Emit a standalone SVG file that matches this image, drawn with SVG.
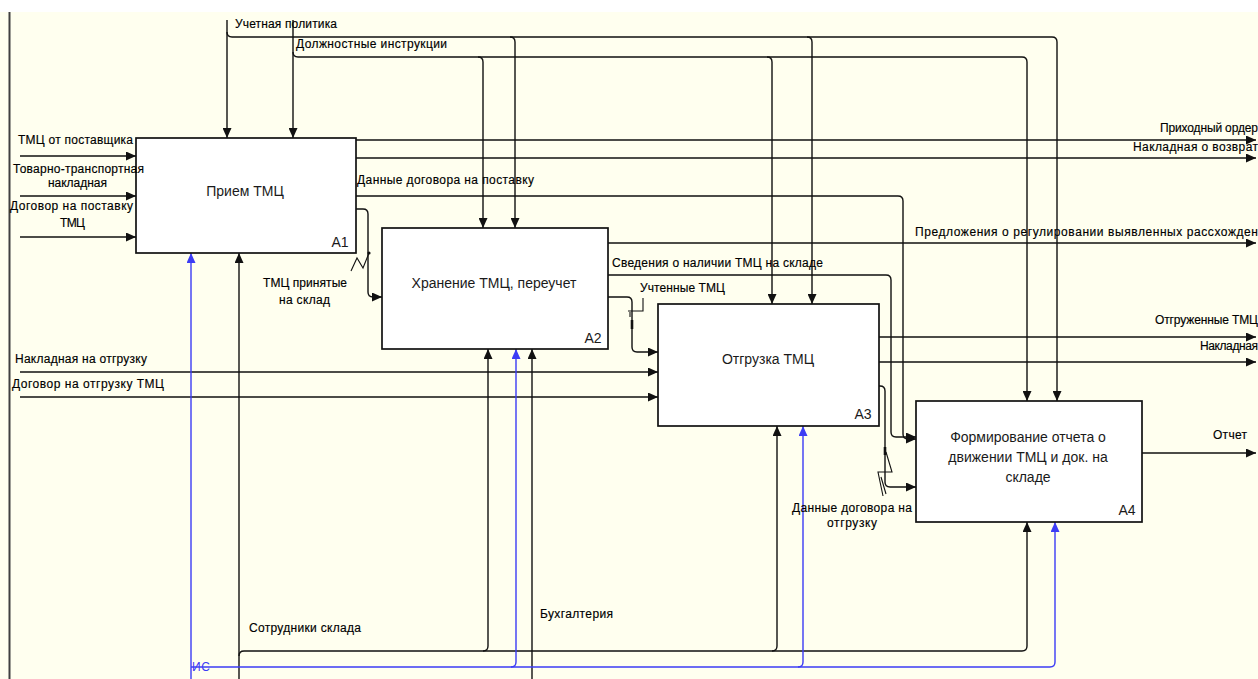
<svg xmlns="http://www.w3.org/2000/svg" width="1258" height="679" viewBox="0 0 1258 679">
<defs>
<style>
.bg{fill:#FFFFEF}
.box{fill:#fff;stroke:#111;stroke-width:1.7}
.ln{fill:none;stroke:#111;stroke-width:1.4}
.bl{fill:none;stroke:#3c3cf5;stroke-width:1.4}
.sq{fill:none;stroke:#111;stroke-width:1.1}
.t{font-family:"Liberation Sans",Arial,sans-serif;font-size:12px;fill:#000;stroke:#000;stroke-width:0.15}
.bt{font-family:"Liberation Sans",Arial,sans-serif;font-size:14px;fill:#1a1a1a;text-anchor:middle}
.tb{font-family:"Liberation Sans",Arial,sans-serif;font-size:12px;fill:#3c3cf5}
</style>
<marker id="ab" markerUnits="userSpaceOnUse" markerWidth="11" markerHeight="9" refX="10" refY="4.5" orient="auto"><path d="M0,0 L10,4.5 L0,9 z" fill="#111"/></marker>
<marker id="abb" markerUnits="userSpaceOnUse" markerWidth="11" markerHeight="9" refX="10" refY="4.5" orient="auto"><path d="M0,0 L10,4.5 L0,9 z" fill="#3c3cf5"/></marker>
</defs>
<rect x="0" y="0" width="1258" height="679" fill="#fff"/>
<rect class="bg" x="0" y="12" width="1258" height="667"/>
<line x1="9.5" y1="12" x2="9.5" y2="679" stroke="#404040" stroke-width="2"/>

<g id="connectors">
<!-- controls -->
<path class="ln" d="M227,20 V138" marker-end="url(#ab)"/>
<path class="ln" d="M227,32 Q227,37 232,37 H1052 Q1057,37 1057,42 V401" marker-end="url(#ab)"/>
<path class="ln" d="M510,37 Q515,37 515,42 V228" marker-end="url(#ab)"/>
<path class="ln" d="M807,37 Q812,37 812,42 V304" marker-end="url(#ab)"/>
<path class="ln" d="M293,20 V138" marker-end="url(#ab)"/>
<path class="ln" d="M293,52 Q293,57 298,57 H1022 Q1027,57 1027,62 V401" marker-end="url(#ab)"/>
<path class="ln" d="M478,57 Q483,57 483,62 V228" marker-end="url(#ab)"/>
<path class="ln" d="M767,57 Q772,57 772,62 V304" marker-end="url(#ab)"/>
<!-- inputs -->
<path class="ln" d="M20,156 H136" marker-end="url(#ab)"/>
<path class="ln" d="M20,196 H136" marker-end="url(#ab)"/>
<path class="ln" d="M20,237 H136" marker-end="url(#ab)"/>
<path class="ln" d="M20,372 H658" marker-end="url(#ab)"/>
<path class="ln" d="M20,397 H658" marker-end="url(#ab)"/>
<!-- A1 outputs -->
<path class="ln" d="M356,140 H1256" marker-end="url(#ab)"/>
<path class="ln" d="M356,158 H1256" marker-end="url(#ab)"/>
<path class="ln" d="M356,196 H898 Q903,196 903,201 V434 Q903,439 908,439 H916" marker-end="url(#ab)"/>
<path class="ln" d="M356,209 H363 Q368,209 368,214 V292 Q368,297 373,297 H382" marker-end="url(#ab)"/>
<circle cx="369" cy="253" r="1.6" fill="#111"/>
<path class="sq" d="M369,253 L363,268 L357,258 L351,271"/>
<!-- A2 outputs -->
<path class="ln" d="M608,243 H1256" marker-end="url(#ab)"/>
<path class="ln" d="M608,275 H886 Q891,275 891,280 V432 Q891,437 896,437 H916" marker-end="url(#ab)"/>
<path class="ln" d="M608,297 H627 Q632,297 632,302 V347 Q632,352 637,352 H658" marker-end="url(#ab)"/>
<path d="M632,320 V329" stroke="#111" stroke-width="2.6"/>
<path class="sq" d="M628,311 H643 V298 M630,312 V317"/>
<!-- A3 outputs -->
<path class="ln" d="M879,337 H1256" marker-end="url(#ab)"/>
<path class="ln" d="M879,362 H1256" marker-end="url(#ab)"/>
<path class="ln" d="M879,386 H880 Q885,386 885,391 V482 Q885,487 890,487 H916" marker-end="url(#ab)"/>
<path d="M885,447 V455" stroke="#111" stroke-width="2.6"/>
<path class="sq" d="M886,452 L892,472 H878 L883,496 M881,477 L886,494"/>
<!-- A4 output -->
<path class="ln" d="M1142,453 H1256" marker-end="url(#ab)"/>
<!-- mechanisms -->
<path class="ln" d="M239,679 V253" marker-end="url(#ab)"/>
<path class="ln" d="M239,656 Q239,651 244,651 H1022 Q1027,651 1027,646 V522" marker-end="url(#ab)"/>
<path class="ln" d="M483,651 Q488,651 488,646 V349" marker-end="url(#ab)"/>
<path class="ln" d="M772,651 Q777,651 777,646 V426" marker-end="url(#ab)"/>
<path class="ln" d="M532,679 V349" marker-end="url(#ab)"/>
<path class="bl" d="M191,679 V253" marker-end="url(#abb)"/>
<path class="bl" d="M191,667 H1050 Q1055,667 1055,662 V522" marker-end="url(#abb)"/>
<path class="bl" d="M511,667 Q516,667 516,662 V349" marker-end="url(#abb)"/>
<path class="bl" d="M798,667 Q803,667 803,662 V426" marker-end="url(#abb)"/>
</g>

<g id="A1">
<rect class="box" x="136" y="138" width="220" height="115"/>
<text class="bt" x="245" y="196">Прием ТМЦ</text>
<text class="bt" x="340" y="247">A1</text>
</g>
<g id="A2">
<rect class="box" x="382" y="228" width="226" height="121"/>
<text class="bt" x="494" y="288">Хранение ТМЦ, переучет</text>
<text class="bt" x="593" y="343">A2</text>
</g>
<g id="A3">
<rect class="box" x="658" y="304" width="221" height="122"/>
<text class="bt" x="768" y="364">Отгрузка ТМЦ</text>
<text class="bt" x="863" y="419">A3</text>
</g>
<g id="A4">
<rect class="box" x="916" y="401" width="226" height="121"/>
<text class="bt" x="1028" y="442">Формирование отчета о</text>
<text class="bt" x="1028" y="462">движении ТМЦ и док. на</text>
<text class="bt" x="1028" y="482">складе</text>
<text class="bt" x="1127" y="515">A4</text>
</g>

<g id="labels">
<text class="t" x="235" y="28" textLength="102">Учетная политика</text>
<text class="t" x="296" y="48" textLength="151">Должностные инструкции</text>
<text class="t" x="18" y="144" textLength="115">ТМЦ от поставщика</text>
<text class="t" x="13" y="173" textLength="131">Товарно-транспортная</text>
<text class="t" x="48" y="187" textLength="59">накладная</text>
<text class="t" x="10" y="210" textLength="123">Договор на поставку</text>
<text class="t" x="60" y="227" textLength="25">ТМЦ</text>
<text class="t" x="357" y="184" textLength="177">Данные договора на поставку</text>
<text class="t" x="263" y="287" textLength="84">ТМЦ принятые</text>
<text class="t" x="279" y="304" textLength="51">на склад</text>
<text class="t" x="612" y="267" textLength="211">Сведения о наличии ТМЦ на складе</text>
<text class="t" x="640" y="292" textLength="85">Учтенные ТМЦ</text>
<text class="t" x="15" y="363" textLength="132">Накладная на отгрузку</text>
<text class="t" x="12" y="388" textLength="152">Договор на отгрузку ТМЦ</text>
<text class="t" x="1160" y="132" textLength="98">Приходный ордер</text>
<text class="t" x="1133" y="151" textLength="125">Накладная о возврат</text>
<text class="t" x="915" y="236" textLength="343">Предложения о регулировании выявленных рассхожден</text>
<text class="t" x="1155" y="324" textLength="103">Отгруженные ТМЦ</text>
<text class="t" x="1200" y="350" textLength="58">Накладная</text>
<text class="t" x="1213" y="439" textLength="34">Отчет</text>
<text class="t" x="792" y="512" textLength="120">Данные договора на</text>
<text class="t" x="827" y="527" textLength="50">отгрузку</text>
<text class="t" x="249" y="632" textLength="112">Сотрудники склада</text>
<text class="t" x="540" y="618" textLength="73">Бухгалтерия</text>
<text class="tb" x="192" y="671" textLength="18">ИС</text>
</g>
</svg>
